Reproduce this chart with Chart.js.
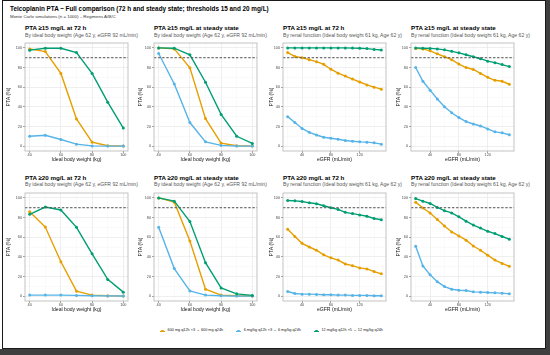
<!DOCTYPE html>
<html>
<head>
<meta charset="utf-8">
<script src="https://cdn.jsdelivr.net/npm/chart.js@4.4.0/dist/chart.umd.min.js"></script>
<style>
  html, body { margin: 0; padding: 0; background: #fff; }
  body { width: 550px; height: 355px; position: relative; overflow: hidden;
         font-family: 'Liberation Sans', Arial, sans-serif; }
  #frame { position: absolute; left: 2px; top: 0; width: 544px; height: 349px;
           border: 1px solid #1a1a1a; box-sizing: border-box; }
  #barR { position: absolute; left: 546px; top: 0; width: 4px; height: 355px; background: #3f3f3f; }
  #barB { position: absolute; left: 0; top: 349px; width: 550px; height: 6px; background: #3f3f3f; }
  .txt { position: absolute; white-space: nowrap; line-height: 1; }
  .main { font-weight: bold; font-size: 6.35px; color: #000; }
  .mainSub { font-size: 4.4px; color: #333; }
  .ptitle { font-weight: bold; font-size: 6.2px; color: #000; }
  .psub { font-size: 5.1px; color: #555; }
  canvas { position: absolute; }
  #legend { position: absolute; left: 0; top: 329.3px; width: 543px; display: flex;
            justify-content: center; align-items: center; font-size: 3.8px; color: #222; line-height: 1; }
  .item { display: flex; align-items: center; margin: 0 6.5px; }
  .mark { position: relative; width: 5px; height: 4px; margin-right: 2.5px; }
  .mark .ln { position: absolute; left: 0; top: 1.5px; width: 5px; height: 1px; }
  .mark .dt { position: absolute; left: 1.2px; top: 0.8px; width: 2.4px; height: 2.4px; border-radius: 50%; }
</style>
</head>
<body>
<div id="frame"></div>
<div id="barR"></div>
<div id="barB"></div>
<div class="txt main" style="left:10px; top:5.8px;">Teicoplanin PTA – Full comparison (72 h and steady state; thresholds 15 and 20 mg/L)</div>
<div class="txt mainSub" style="left:10px; top:14.5px;">Monte Carlo simulations (n = 1000) – Regimens A/B/C</div>
<div id="legend"></div>
<script>
// x values
const ibwKg = [40, 50, 60, 70, 80, 90, 100];
const egfrMl = [20, 30, 40, 50, 60, 70, 80, 90, 100, 110, 120, 130, 140, 150];

// tick labels
const yTicks = [0, 20, 40, 60, 80, 100];
const ibwTicks = [40, 60, 80, 100];
const egfrTicks = [40, 80, 120];

const regimens = ['600 mg q12h ×3 → 600 mg q24h', '6 mg/kg q12h ×3 → 6 mg/kg q24h', '12 mg/kg q12h ×5 → 12 mg/kg q24h'];
const colors = ['#E69F00', '#56B4E9', '#009E73'];
const target = 90;

// PTA >= 15 mg/L at 72 h, by IBW (A = 600 mg, B = 6 mg/kg, C = 12 mg/kg)
const ibw15h72A = [99, 96.3, 74, 27.7, 4, 0.3, 0];
const ibw15h72B = [10, 11, 6.7, 2, 0.2, 0, 0];
const ibw15h72C = [97.7, 99.7, 99.7, 95.3, 74, 44.7, 18.3];
// PTA >= 15 mg/L at steady state, by IBW
const ibw15ssA = [100, 99, 79.7, 28, 3, 0.3, 0];
const ibw15ssB = [94.3, 63.3, 24, 4.3, 0.7, 0, 0];
const ibw15ssC = [100, 99.7, 93, 65, 32.3, 10, 2.7];
// PTA >= 15 mg/L at 72 h, by eGFR
const egfr15h72A = [95.3, 91.3, 90, 88, 86, 83.3, 78.3, 74.3, 71.3, 68.3, 65.3, 62.3, 60, 58];
const egfr15h72B = [30, 24, 18, 14, 11.3, 9, 8, 7, 5.7, 5, 4.3, 4, 3.3, 2];
const egfr15h72C = [100, 100, 100, 100, 100, 100, 100, 100, 100, 99.8, 99.6, 99.3, 98.5, 97.8];
// PTA >= 15 mg/L at steady state, by eGFR
const egfr15ssA = [99.5, 99, 97, 94, 91, 88, 83.5, 80, 78, 74, 70, 67, 66, 63];
const egfr15ssB = [80, 66, 57, 48, 40, 34, 29, 25, 22.5, 20.5, 17.5, 14.5, 13.5, 11.5];
const egfr15ssC = [100, 99.7, 99.5, 99, 98, 96.5, 95, 93, 91, 89, 86.5, 85, 83, 81];
// PTA >= 20 mg/L at 72 h, by IBW
const ibw20h72A = [86, 70.3, 35, 5, 1, 0.3, 0];
const ibw20h72B = [1, 1, 1, 0.7, 0.3, 0.2, 0.1];
const ibw20h72C = [83.3, 90.7, 87.7, 70, 43, 17, 4];
// PTA >= 20 mg/L at steady state, by IBW
const ibw20ssA = [100, 95.7, 56, 7, 1, 0.3, 0];
const ibw20ssB = [70, 28, 5.3, 1, 0.3, 0, 0];
const ibw20ssC = [100, 96.7, 76, 34, 8.3, 2.3, 0.7];
// PTA >= 20 mg/L at 72 h, by eGFR
const egfr20h72A = [68, 60.7, 53.7, 50, 46.7, 42, 39, 36.7, 32.7, 31, 28.7, 27.7, 25, 22.7];
const egfr20h72B = [4.7, 2.7, 2, 2, 1.7, 1.3, 1.3, 1, 1, 0.7, 0.7, 0.7, 0.3, 0.3];
const egfr20h72C = [97.3, 97, 96.3, 95, 94, 92, 90, 88.3, 85.3, 84, 82.7, 81.3, 79, 77.7];
// PTA >= 20 mg/L at steady state, by eGFR
const egfr20ssA = [95.7, 89.7, 84.7, 78, 71.3, 65.3, 61.3, 57, 51, 46.7, 41.7, 36.7, 33.3, 30.3];
const egfr20ssB = [50.7, 30.7, 21.7, 14.7, 9.7, 7, 6, 5.7, 4.3, 4, 3.7, 3.3, 3, 2.3];
const egfr20ssC = [99.3, 96.7, 94.3, 90.3, 87, 84.7, 80.7, 76.3, 72.3, 69.3, 66, 63.7, 60.7, 58];

const subIbw = 'By ideal body weight (Age 62 y, eGFR 92 mL/min)';
const subEgfr = 'By renal function (Ideal body weight 61 kg, Age 62 y)';

const panels = [
  { title: 'PTA ≥15 mg/L at 72 h', sub: subIbw, kind: 'ibw', series: [ibw15h72A, ibw15h72B, ibw15h72C] },
  { title: 'PTA ≥15 mg/L at steady state', sub: subIbw, kind: 'ibw', series: [ibw15ssA, ibw15ssB, ibw15ssC] },
  { title: 'PTA ≥15 mg/L at 72 h', sub: subEgfr, kind: 'egfr', series: [egfr15h72A, egfr15h72B, egfr15h72C] },
  { title: 'PTA ≥15 mg/L at steady state', sub: subEgfr, kind: 'egfr', series: [egfr15ssA, egfr15ssB, egfr15ssC] },
  { title: 'PTA ≥20 mg/L at 72 h', sub: subIbw, kind: 'ibw', series: [ibw20h72A, ibw20h72B, ibw20h72C] },
  { title: 'PTA ≥20 mg/L at steady state', sub: subIbw, kind: 'ibw', series: [ibw20ssA, ibw20ssB, ibw20ssC] },
  { title: 'PTA ≥20 mg/L at 72 h', sub: subEgfr, kind: 'egfr', series: [egfr20h72A, egfr20h72B, egfr20h72C] },
  { title: 'PTA ≥20 mg/L at steady state', sub: subEgfr, kind: 'egfr', series: [egfr20ssA, egfr20ssB, egfr20ssC] }
];

// layout (plot area edges, px)
const colL = [25, 154, 283, 411];
const colR = [130, 259, 388, 516];
const yAxisW = [20, 17, 15, 16];
const rowT = [41, 191];
const rowB = [151, 301];
const titleY = [24.9, 174.6];
const subY = [32.7, 182.4];
const xAxisH = 12;

Chart.defaults.font.family = "'Liberation Sans', Arial, sans-serif";

// panel border + dashed target line
const panelDeco = {
  id: 'panelDeco',
  afterDatasetsDraw(chart) {
    const { ctx, chartArea: a, scales: { y } } = chart;
    const yy = y.getPixelForValue(target);
    ctx.save();
    ctx.setLineDash([2.4, 1.7]);
    ctx.strokeStyle = '#505050';
    ctx.lineWidth = 1;
    ctx.beginPath();
    ctx.moveTo(a.left, yy);
    ctx.lineTo(a.right, yy);
    ctx.stroke();
    ctx.restore();
  },
  afterDraw(chart) {
    const { ctx, chartArea: a } = chart;
    ctx.save();
    ctx.strokeStyle = '#b5b5b5';
    ctx.lineWidth = 0.8;
    ctx.strokeRect(a.left, a.top, a.right - a.left, a.bottom - a.top);
    ctx.restore();
  }
};

function gridValues(majors, min, max) {
  const step = majors[1] - majors[0];
  const out = [];
  for (let v = majors[0] - step; v <= max + 1e-9; v += step / 2) {
    if (v >= min - 1e-9) out.push(Math.round(v * 1000) / 1000);
  }
  return out;
}

panels.forEach((p, k) => {
  const col = k % 4, row = Math.floor(k / 4);
  const L = colL[col], R = colR[col], T = rowT[row], B = rowB[row], yw = yAxisW[col];

  const t = document.createElement('div');
  t.className = 'txt ptitle';
  t.style.left = L + 'px';
  t.style.top = titleY[row] + 'px';
  t.textContent = p.title;
  document.body.appendChild(t);
  const s = document.createElement('div');
  s.className = 'txt psub';
  s.style.left = L + 'px';
  s.style.top = subY[row] + 'px';
  s.textContent = p.sub;
  document.body.appendChild(s);

  const cv = document.createElement('canvas');
  const w = yw + (R - L) + 2, h = 2 + (B - T) + xAxisH;
  cv.width = w; cv.height = h;
  cv.style.left = (L - yw) + 'px';
  cv.style.top = (T - 2) + 'px';
  cv.style.width = w + 'px';
  cv.style.height = h + 'px';
  document.body.appendChild(cv);

  const xs = p.kind === 'ibw' ? ibwKg : egfrMl;
  const xMajor = p.kind === 'ibw' ? ibwTicks : egfrTicks;
  const pad = (xs[xs.length - 1] - xs[0]) * 0.05;
  const xMin = xs[0] - pad, xMax = xs[xs.length - 1] + pad;
  const xGrid = gridValues(xMajor, xMin, xMax);
  const yGrid = gridValues(yTicks, -5, 105);
  const xTitle = p.kind === 'ibw' ? 'Ideal body weight (kg)' : 'eGFR (mL/min)';

  new Chart(cv, {
    type: 'line',
    data: {
      datasets: p.series.map((vals, i) => ({
        label: regimens[i],
        data: vals.map((v, j) => ({ x: xs[j], y: v })),
        borderColor: colors[i],
        backgroundColor: colors[i],
        borderWidth: 1.4,
        pointRadius: 1.5,
        pointBorderWidth: 0,
        tension: 0,
        clip: false,
        order: 3 - i
      }))
    },
    options: {
      responsive: false,
      animation: false,
      devicePixelRatio: 1,
      layout: { padding: { top: 2, right: 2, left: 0, bottom: 0 } },
      plugins: { legend: { display: false }, tooltip: { enabled: false } },
      scales: {
        x: {
          type: 'linear', min: xMin, max: xMax,
          afterBuildTicks: sc => { sc.ticks = xGrid.map(v => ({ value: v })); },
          afterFit: sc => { sc.height = xAxisH; },
          border: { display: false },
          ticks: {
            autoSkip: false, maxRotation: 0, padding: 0, color: '#4d4d4d', font: { size: 3.8 },
            callback: v => xMajor.includes(v) ? v : ''
          },
          grid: {
            color: c => xMajor.includes(c.tick.value) ? '#e4e4e4' : '#f1f1f1',
            lineWidth: c => xMajor.includes(c.tick.value) ? 0.6 : 0.35,
            tickLength: 2,
            tickColor: c => xMajor.includes(c.tick.value) ? '#444' : 'rgba(0,0,0,0)',
            tickWidth: 0.5
          },
          title: { display: true, text: xTitle, color: '#111', font: { size: 5.1 }, padding: { top: 0, bottom: 0.2 } }
        },
        y: {
          type: 'linear', min: -5, max: 105,
          afterBuildTicks: sc => { sc.ticks = yGrid.map(v => ({ value: v })); },
          afterFit: sc => { sc.width = yw; },
          border: { display: false },
          ticks: {
            autoSkip: false, padding: 1, color: '#4d4d4d', font: { size: 3.8 },
            callback: v => yTicks.includes(v) ? v : ''
          },
          grid: {
            color: c => yTicks.includes(c.tick.value) ? '#e4e4e4' : '#f1f1f1',
            lineWidth: c => yTicks.includes(c.tick.value) ? 0.6 : 0.35,
            tickLength: 2,
            tickColor: c => yTicks.includes(c.tick.value) ? '#444' : 'rgba(0,0,0,0)',
            tickWidth: 0.5
          },
          title: { display: true, text: 'PTA (%)', color: '#111', font: { size: 5.1 }, padding: { top: 0.3, bottom: 0 } }
        }
      }
    },
    plugins: [panelDeco]
  });
});

// legend
const lg = document.getElementById('legend');
regimens.forEach((name, i) => {
  const it = document.createElement('div');
  it.className = 'item';
  it.innerHTML = '<span class="mark"><span class="ln" style="background:' + colors[i] + '"></span>' +
    '<span class="dt" style="background:' + colors[i] + '"></span></span><span>' + name + '</span>';
  lg.appendChild(it);
});
</script>
</body>
</html>
